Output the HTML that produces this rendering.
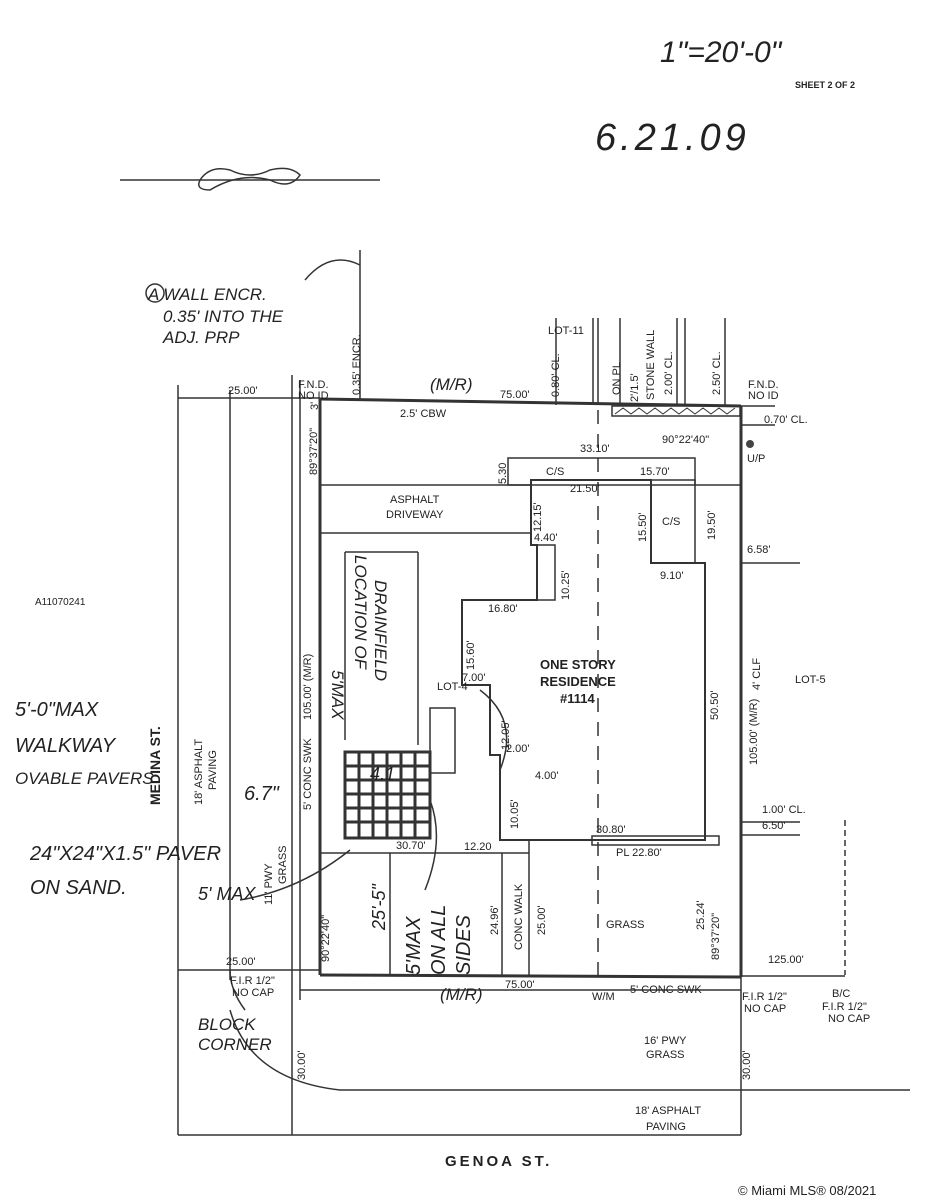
<!DOCTYPE html>
<html><head><meta charset="utf-8"><style>
html,body{margin:0;padding:0;background:#fff;}
svg{display:block;}
text{font-family:"Liberation Sans",sans-serif;fill:#222;}
.s{font-size:11px;}
.h{font-family:"Liberation Serif",serif;fill:#333;}
</style></head><body>
<svg width="927" height="1200" viewBox="0 0 927 1200" xmlns="http://www.w3.org/2000/svg">
<rect width="927" height="1200" fill="#fff"/>
<g stroke="#333" fill="none" stroke-width="1.5">
<line x1="178" y1="385" x2="178" y2="1135"/>
<line x1="230" y1="390" x2="230" y2="980"/>
<line x1="292" y1="375" x2="292" y2="1135"/>
<line x1="300" y1="380" x2="300" y2="1000"/>
<line x1="178" y1="398" x2="320" y2="398"/>
<line x1="741" y1="406" x2="775" y2="406"/>
<line x1="741" y1="425" x2="775" y2="425"/>
<line x1="178" y1="970" x2="320" y2="970"/>
<line x1="741" y1="976" x2="845" y2="976"/>
<line x1="300" y1="990" x2="741" y2="990"/>
<line x1="178" y1="1135" x2="741" y2="1135"/>
<line x1="340" y1="1090" x2="910" y2="1090"/>
<path d="M230 1010 Q250 1080 340 1090"/>
<path d="M230 970 Q230 990 245 1010"/>
<line x1="741" y1="975" x2="741" y2="1135"/>
<line x1="845" y1="820" x2="845" y2="975" stroke-dasharray="6,4"/>
<line x1="741" y1="563" x2="800" y2="563"/>
<line x1="741" y1="822" x2="800" y2="822"/>
<line x1="741" y1="835" x2="800" y2="835"/>
<line x1="360" y1="250" x2="360" y2="400"/>
<line x1="556" y1="318" x2="556" y2="405"/>
<line x1="593" y1="318" x2="593" y2="405"/>
<line x1="598" y1="318" x2="598" y2="405"/>
<line x1="620" y1="318" x2="620" y2="405"/>
<line x1="677" y1="318" x2="677" y2="406"/>
<line x1="685" y1="318" x2="685" y2="406"/>
<line x1="725" y1="318" x2="725" y2="406"/>
<rect x="612" y="406" width="128" height="10"/>
<path d="M615 414 l8-6 l8 6 l8-6 l8 6 l8-6 l8 6 l8-6 l8 6 l8-6 l8 6 l8-6 l8 6 l8-6 l8 6 l8-6" stroke-width="1"/>
<line x1="320" y1="399" x2="741" y2="406" stroke-width="3"/>
<line x1="320" y1="399" x2="320" y2="975" stroke-width="3"/>
<line x1="320" y1="975" x2="741" y2="977" stroke-width="3"/>
<line x1="741" y1="406" x2="741" y2="977" stroke-width="3"/>
<line x1="320" y1="485" x2="531" y2="485"/>
<line x1="320" y1="533" x2="531" y2="533"/>
<line x1="345" y1="552" x2="418" y2="552"/>
<line x1="345" y1="552" x2="345" y2="740"/>
<line x1="418" y1="552" x2="418" y2="745"/>
<rect x="508" y="458" width="187" height="27"/>
<rect x="651" y="480" width="44" height="83"/>
<line x1="695" y1="485" x2="741" y2="485"/>
<path d="M531 480 L651 480 L651 563 L705 563 L705 840 L500 840 L500 755 L490 755 L490 685 L462 685 L462 600 L537 600 L537 545 L531 545 Z" stroke-width="2"/>
<rect x="537" y="545" width="18" height="55"/>
<line x1="598" y1="410" x2="598" y2="975" stroke-dasharray="14,10"/>
<rect x="592" y="836" width="127" height="9"/>
<line x1="320" y1="853" x2="529" y2="853"/>
<line x1="502" y1="853" x2="502" y2="975"/>
<line x1="529" y1="840" x2="529" y2="975"/>
<line x1="390" y1="853" x2="390" y2="975"/>
<rect x="430" y="708" width="25" height="65"/>
<g stroke-width="3">
<rect x="345" y="752" width="85" height="86"/>
<line x1="359" y1="752" x2="359" y2="838"/><line x1="373" y1="752" x2="373" y2="838"/><line x1="387" y1="752" x2="387" y2="838"/><line x1="401" y1="752" x2="401" y2="838"/><line x1="415" y1="752" x2="415" y2="838"/>
<line x1="345" y1="766" x2="430" y2="766"/><line x1="345" y1="780" x2="430" y2="780"/><line x1="345" y1="794" x2="430" y2="794"/><line x1="345" y1="808" x2="430" y2="808"/><line x1="345" y1="822" x2="430" y2="822"/>
</g>
<path d="M240 900 Q300 890 350 850"/>
<path d="M480 690 Q520 720 500 770"/>
<path d="M430 800 Q445 840 425 890"/>
<path d="M305 280 Q330 250 360 265"/>
<circle cx="155" cy="293" r="9"/>
<line x1="120" y1="180" x2="380" y2="180"/>
<path d="M200 180 q10-15 30-10 q20 10 40 0 q20 -5 30 5 q-10 15-30 5 q-30-8-60 10 q-15 0-10-10z"/>
</g>
<circle cx="750" cy="444" r="4" fill="#444"/>
<g class="s">
<text x="298" y="388">F.N.D.</text><text x="298" y="399">NO ID</text>
<text x="228" y="394">25.00'</text>
<text x="500" y="398">75.00'</text>
<text x="400" y="417">2.5' CBW</text>
<text x="748" y="388">F.N.D.</text><text x="748" y="399">NO ID</text>
<text x="764" y="423">0.70' CL.</text>
<text x="662" y="443">90°22'40"</text>
<text x="747" y="462">U/P</text>
<text x="580" y="452">33.10'</text>
<text x="546" y="475">C/S</text>
<text x="640" y="475">15.70'</text>
<text x="570" y="492">21.50'</text>
<text x="390" y="503">ASPHALT</text><text x="386" y="518">DRIVEWAY</text>
<text x="534" y="541">4.40'</text>
<text x="662" y="525">C/S</text>
<text x="660" y="579">9.10'</text>
<text x="747" y="553">6.58'</text>
<text x="488" y="612">16.80'</text>
<text x="462" y="681">7.00'</text>
<text x="540" y="669" font-weight="bold" font-size="13">ONE STORY</text>
<text x="540" y="686" font-weight="bold" font-size="13">RESIDENCE</text>
<text x="560" y="703" font-weight="bold" font-size="13">#1114</text>
<text x="506" y="752">2.00'</text><text x="535" y="779">4.00'</text>
<text x="762" y="813">1.00' CL.</text><text x="762" y="829">6.50'</text>
<text x="596" y="833">30.80'</text>
<text x="616" y="856">PL  22.80'</text>
<text x="396" y="849">30.70'</text><text x="464" y="850">12.20</text>
<text x="606" y="928">GRASS</text>
<text x="795" y="683">LOT-5</text>
<text x="437" y="690">LOT-4</text>
<text x="548" y="334">LOT-11</text>
<text x="768" y="963">125.00'</text>
<text x="226" y="965">25.00'</text>
<text x="230" y="984">F.I.R 1/2"</text><text x="232" y="996">NO CAP</text>
<text x="505" y="988">75.00'</text>
<text x="592" y="1000">W/M</text>
<text x="630" y="993">5' CONC SWK</text>
<text x="742" y="1000">F.I.R 1/2"</text><text x="744" y="1012">NO CAP</text>
<text x="832" y="997">B/C</text><text x="822" y="1010">F.I.R 1/2"</text><text x="828" y="1022">NO CAP</text>
<text x="644" y="1044">16' PWY</text><text x="646" y="1058">GRASS</text>
<text x="635" y="1114">18' ASPHALT</text><text x="646" y="1130">PAVING</text>
<text x="795" y="88" font-size="9" font-weight="bold">SHEET 2 OF 2</text>
<text x="35" y="605" font-size="10" fill="#777">A11070241</text>
<text x="738" y="1195" font-size="13" fill="#777">© Miami MLS® 08/2021</text>
</g>
<g class="s">
<text transform="translate(318,410) rotate(-90)">3'</text>
<text transform="translate(317,475) rotate(-90)">89°37'20"</text>
<text transform="translate(360,395) rotate(-90)">0.35' ENCR.</text>
<text transform="translate(559,397) rotate(-90)">0.80' CL.</text>
<text transform="translate(620,395) rotate(-90)">ON PL</text>
<text transform="translate(638,402) rotate(-90)">2'/1.5'</text>
<text transform="translate(654,400) rotate(-90)">STONE WALL</text>
<text transform="translate(672,395) rotate(-90)">2.00' CL.</text>
<text transform="translate(720,395) rotate(-90)">2.50' CL.</text>
<text transform="translate(506,484) rotate(-90)">5.30</text>
<text transform="translate(541,532) rotate(-90)">12.15'</text>
<text transform="translate(569,600) rotate(-90)">10.25'</text>
<text transform="translate(646,542) rotate(-90)">15.50'</text>
<text transform="translate(715,540) rotate(-90)">19.50'</text>
<text transform="translate(474,670) rotate(-90)">15.60'</text>
<text transform="translate(509,750) rotate(-90)">12.05'</text>
<text transform="translate(518,829) rotate(-90)">10.05'</text>
<text transform="translate(718,720) rotate(-90)">50.50'</text>
<text transform="translate(760,690) rotate(-90)">4' CLF</text>
<text transform="translate(757,765) rotate(-90)">105.00' (M/R)</text>
<text transform="translate(719,960) rotate(-90)">89°37'20"</text>
<text transform="translate(704,930) rotate(-90)">25.24'</text>
<text transform="translate(498,935) rotate(-90)">24.96'</text>
<text transform="translate(522,950) rotate(-90)">CONC WALK</text>
<text transform="translate(545,935) rotate(-90)">25.00'</text>
<text transform="translate(329,962) rotate(-90)">90°22'40"</text>
<text transform="translate(311,720) rotate(-90)">105.00' (M/R)</text>
<text transform="translate(311,810) rotate(-90)">5' CONC SWK</text>
<text transform="translate(272,905) rotate(-90)">11' PWY</text>
<text transform="translate(286,884) rotate(-90)">GRASS</text>
<text transform="translate(202,805) rotate(-90)">18' ASPHALT</text>
<text transform="translate(216,790) rotate(-90)">PAVING</text>
<text transform="translate(305,1080) rotate(-90)">30.00'</text>
<text transform="translate(750,1080) rotate(-90)">30.00'</text>
<text transform="translate(160,805) rotate(-90)" font-weight="bold" font-size="14">MEDINA ST.</text>
</g>
<text x="445" y="1166" font-weight="bold" font-size="15" letter-spacing="3">GENOA ST.</text>
<g class="h" font-size="17" font-style="italic">
<text x="148" y="300">A WALL ENCR.</text>
<text x="163" y="322">0.35' INTO THE</text>
<text x="163" y="343">ADJ. PRP</text>
<text x="430" y="390">(M/R)</text>
<text x="440" y="1000">(M/R)</text>
<text x="15" y="716" font-size="20">5'-0"MAX</text>
<text x="15" y="752" font-size="20">WALKWAY</text>
<text x="15" y="784">OVABLE PAVERS</text>
<text x="30" y="860" font-size="20">24"X24"X1.5" PAVER</text>
<text x="30" y="894" font-size="20">ON SAND.</text>
<text x="198" y="900" font-size="18">5' MAX</text>
<text x="198" y="1030">BLOCK</text><text x="198" y="1050">CORNER</text>
<text x="244" y="800" font-size="20">6.7"</text>
<text x="370" y="780" font-size="18">4.1</text>
<text transform="translate(355,555) rotate(90)" font-size="17">LOCATION OF</text>
<text transform="translate(375,580) rotate(90)" font-size="17">DRAINFIELD</text>
<text transform="translate(332,670) rotate(90)">5'MAX</text>
<text transform="translate(385,930) rotate(-90)" font-size="18">25'-5"</text>
<text transform="translate(420,975) rotate(-90)" font-size="20">5'MAX</text>
<text transform="translate(445,975) rotate(-90)" font-size="20">ON ALL</text>
<text transform="translate(470,975) rotate(-90)" font-size="20">SIDES</text>
<text x="660" y="62" font-size="30" fill="#666">1"=20'-0"</text>
<text x="595" y="150" font-size="38" fill="#888" letter-spacing="4">6.21.09</text>
</g>
</svg>
</body></html>
